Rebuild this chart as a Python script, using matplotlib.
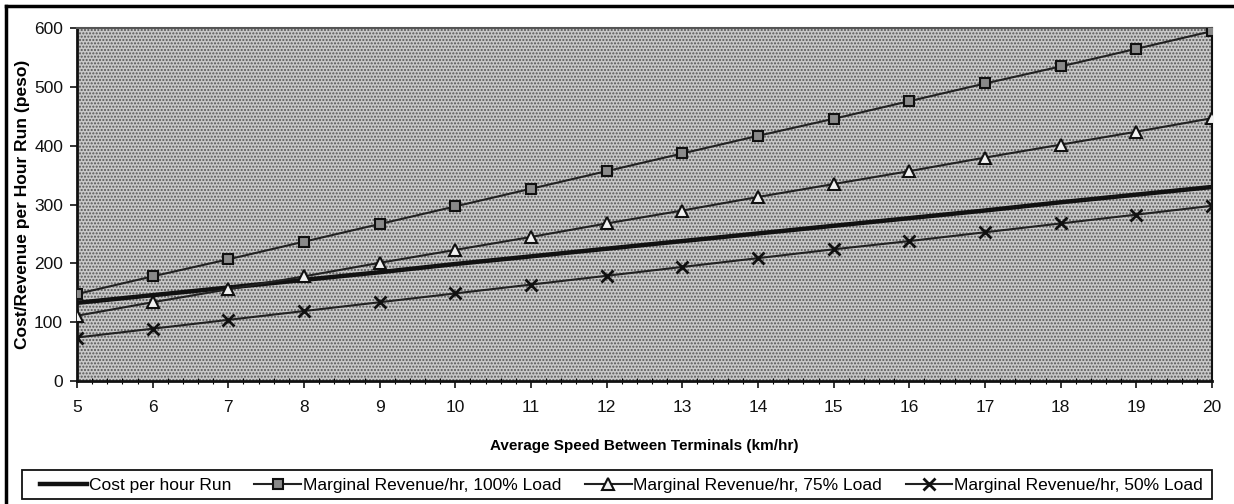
import matplotlib.pyplot as plt
from matplotlib.patches import Rectangle
from matplotlib.ticker import MultipleLocator

plt.rcParams['font.family'] = ['Liberation Sans', 'DejaVu Sans']
plt.rcParams['hatch.linewidth'] = 1.0

speed = [5, 6, 7, 8, 9, 10, 11, 12, 13, 14, 15, 16, 17, 18, 19, 20]
cost_run = [133, 146, 159, 172, 185, 199, 212, 225, 238, 251, 264, 277, 290, 304, 317, 330]
rev_100 = [148, 178, 207, 237, 267, 297, 327, 357, 387, 417, 446, 476, 506, 535, 565, 595]
rev_75 = [111, 134, 156, 178, 201, 223, 245, 268, 290, 313, 335, 357, 380, 402, 424, 447]
rev_50 = [74, 89, 104, 119, 134, 149, 164, 179, 194, 209, 224, 238, 253, 268, 283, 298]

fig = plt.figure(figsize=(12.34, 5.04), dpi=100)
ax = fig.add_axes([0.0624, 0.244, 0.9198, 0.700])

# stippled grey plot area
ax.set_facecolor('#c8c8c8')
ax.add_patch(Rectangle((0, 0), 1, 1, transform=ax.transAxes, facecolor='#c8c8c8',
                       edgecolor='#555555', hatch='.....', lw=0, zorder=0))

ax.plot(speed, cost_run, color='#111111', lw=3.2, label='Cost per hour Run', zorder=4)
ax.plot(speed, rev_100, color='#222222', lw=1.5, marker='s', ms=7,
        mfc='#8a8a8a', mec='#111111', mew=1.5, label='Marginal Revenue/hr, 100% Load', zorder=5)
ax.plot(speed, rev_75, color='#222222', lw=1.5, marker='^', ms=8,
        mfc='#f2f2f2', mec='#111111', mew=1.5, label='Marginal Revenue/hr, 75% Load', zorder=5)
ax.plot(speed, rev_50, color='#222222', lw=1.5, marker='x', ms=9,
        mec='#111111', mew=2.0, label='Marginal Revenue/hr, 50% Load', zorder=5)

ax.set_xlim(5, 20)
ax.set_ylim(0, 600)
ax.xaxis.set_major_locator(MultipleLocator(1))
ax.xaxis.set_minor_locator(MultipleLocator(0.2))
ax.yaxis.set_major_locator(MultipleLocator(100))

ax.tick_params(axis='both', which='major', direction='out', length=5, width=1.2,
               labelsize=12.5, colors='#111111')
ax.tick_params(axis='y', which='major', pad=5)
ax.tick_params(axis='x', which='major', pad=9)
ax.tick_params(axis='x', which='minor', direction='inout', length=4, width=0.8)

for side in ['left', 'bottom']:
    ax.spines[side].set_linewidth(2.0)
    ax.spines[side].set_color('#111111')
ax.spines['top'].set_linewidth(1.5)
ax.spines['top'].set_color('#555555')
ax.spines['right'].set_linewidth(1.5)
ax.spines['right'].set_color('#111111')

ax.set_xlabel('Average Speed Between Terminals (km/hr)', fontsize=11, fontweight='bold')
ax.xaxis.set_label_coords(0.5, -0.165)
ax.set_ylabel('Cost/Revenue per Hour Run (peso)', fontsize=12.5, fontweight='bold')
ax.yaxis.set_label_coords(-0.041, 0.5)

# legend box across the bottom
fig.add_artist(Rectangle((22 / 1234, 5 / 504), 1190 / 1234, 29 / 504,
                         transform=fig.transFigure, facecolor='white',
                         edgecolor='#111111', lw=1.3))
fig.legend(loc='center left', bbox_to_anchor=(33 / 1234, 19 / 504), ncol=4,
           fontsize=12.5, frameon=False, handlelength=2.7, handletextpad=0.1,
           columnspacing=1.35, borderaxespad=0.0)

# outer border of the page
fig.add_artist(plt.Line2D([6 / 1234, 6 / 1234], [0, 1 - 6 / 504], color='black', lw=2.5))
fig.add_artist(plt.Line2D([6 / 1234, 1], [1 - 6 / 504, 1 - 6 / 504], color='black', lw=2.5))

fig.savefig('out.png', dpi=100)
